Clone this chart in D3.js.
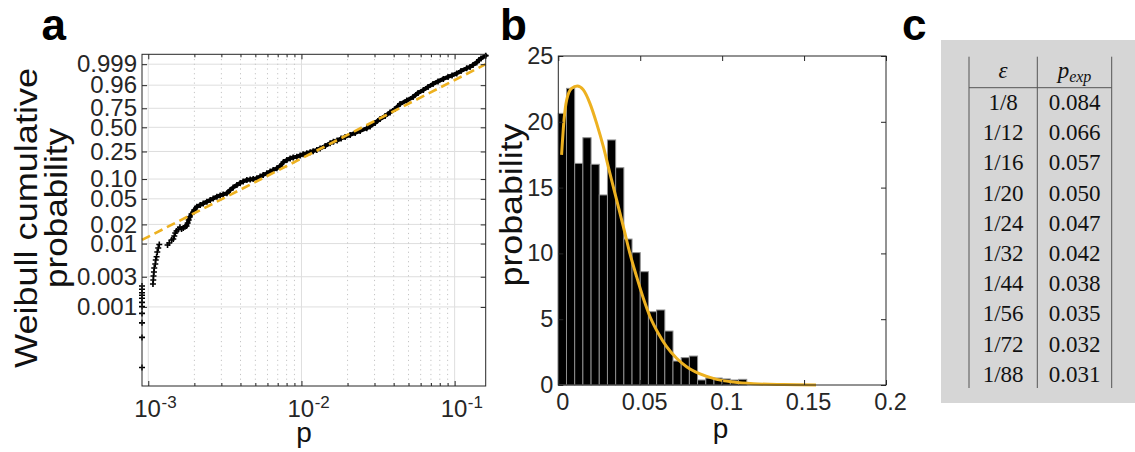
<!DOCTYPE html>
<html>
<head>
<meta charset="utf-8">
<script src="https://cdn.jsdelivr.net/npm/d3@7"></script>
<style>
  body { margin: 0; background: #fff; }
  svg { display: block; font-family: "Liberation Sans", Arial, Helvetica, sans-serif; }
</style>
</head>
<body>
<svg id="fig" width="1135" height="452"></svg>
<script>
// ---- panel a: Weibull probability plot (p, cumulative F) ----
const edgeP = 0.00091;
const edgeF = [0.00011, 0.00033, 0.00056, 0.00079, 0.00101, 0.00118, 0.00137, 0.00153, 0.00168, 0.0019, 0.00214];
const sparsePts = [
  [0.001073, 0.002304], [0.001078, 0.002664], [0.001082, 0.003082], [0.001089, 0.003566], [0.001094, 0.004123],
  [0.001111, 0.004769], [0.001119, 0.005517], [0.001133, 0.006218], [0.001145, 0.007374], [0.001162, 0.008525],
  [0.00118, 0.00968], [0.001336, 0.00951], [0.001371, 0.01022], [0.001419, 0.0114], [0.001456, 0.01182],
  [0.001478, 0.01318], [0.0015, 0.01468], [0.001529, 0.01578], [0.001569, 0.01666], [0.00161, 0.01804],
  [0.001649, 0.01696], [0.001692, 0.01758], [0.001736, 0.01843]
];
const bandPts = [
  [0.001778, 0.01891], [0.00181, 0.02107], [0.001837, 0.02347], [0.001865, 0.02615], [0.001916, 0.02913],
  [0.001995, 0.03362], [0.002078, 0.03784], [0.002183, 0.04019], [0.002284, 0.0424], [0.002414, 0.04522],
  [0.002537, 0.04803], [0.002655, 0.05065], [0.002806, 0.054], [0.002949, 0.05634], [0.003085, 0.05837],
  [0.003261, 0.0609], [0.003427, 0.06842], [0.003584, 0.07467], [0.00379, 0.0815], [0.003982, 0.08737],
  [0.004165, 0.09206], [0.004403, 0.09697], [0.004627, 0.09866], [0.00484, 0.10038], [0.005117, 0.10284],
  [0.005377, 0.10942], [0.005625, 0.11519], [0.005946, 0.12206], [0.006249, 0.12976], [0.006537, 0.13652],
  [0.006911, 0.14458], [0.007263, 0.15623], [0.007632, 0.17841], [0.008031, 0.19048], [0.008438, 0.20006],
  [0.008827, 0.20667], [0.009334, 0.21209], [0.009807, 0.22042], [0.010254, 0.22905], [0.010845, 0.23646],
  [0.011397, 0.24404], [0.011922, 0.25265], [0.012599, 0.26229], [0.013239, 0.2748], [0.014275, 0.29681],
  [0.015393, 0.32184], [0.016175, 0.33744], [0.0171, 0.34947], [0.018156, 0.37032], [0.019279, 0.3865],
  [0.020784, 0.40869], [0.022408, 0.43176], [0.024157, 0.45547], [0.026701, 0.48865], [0.02806, 0.51126],
  [0.03026, 0.55681], [0.032617, 0.60993], [0.035157, 0.65016], [0.037896, 0.69668], [0.040846, 0.74213],
  [0.044025, 0.80329], [0.048693, 0.8423], [0.05354, 0.87737], [0.057704, 0.91176], [0.062487, 0.93334],
  [0.067057, 0.95122], [0.072268, 0.96559], [0.077888, 0.97508], [0.084374, 0.98247], [0.090553, 0.98707],
  [0.096169, 0.98987], [0.1032, 0.99285], [0.11008, 0.99554], [0.11993, 0.99745], [0.12603, 0.99809],
  [0.13184, 0.99881], [0.13937, 0.99937], [0.14426, 0.99969], [0.14866, 0.9998], [0.15951, 0.99992]
];
const fitLine = [[0.00091, 0.0114], [0.1595, 0.999]];
const yTickVals = [0.999, 0.96, 0.75, 0.5, 0.25, 0.1, 0.05, 0.02, 0.01, 0.003, 0.001];
const yTickLabels = ["0.999", "0.96", "0.75", "0.50", "0.25", "0.10", "0.05", "0.02", "0.01", "0.003", "0.001"];
const decades = [0.001, 0.01, 0.1];
const decadeExp = ["-3", "-2", "-1"];
const minorVals = [0.002, 0.003, 0.004, 0.005, 0.006, 0.007, 0.008, 0.009,
                   0.02, 0.03, 0.04, 0.05, 0.06, 0.07, 0.08, 0.09];

// ---- panel b: histogram + fitted density ----
const binEdges = [0, 0.005, 0.01, 0.015, 0.02, 0.025, 0.03, 0.035, 0.04, 0.045, 0.05, 0.055, 0.06,
                  0.065, 0.07, 0.075, 0.08, 0.085, 0.09, 0.095, 0.1, 0.105, 0.11, 0.115];
const binHeight = [20.64, 22.54, 16.84, 18.79, 16.77, 14.44, 18.62, 16.51, 11.09, 10.06, 8.61, 5.57,
                   5.70, 4.10, 1.82, 2.08, 2.20, 0.38, 0.53, 0.53, 0.46, 0.38, 0.43];
const pdfP = [0.002, 0.0035, 0.0051, 0.0081, 0.0116, 0.0153, 0.0193, 0.0234, 0.0275, 0.0315, 0.0356,
              0.0397, 0.0437, 0.0478, 0.0519, 0.056, 0.061, 0.0661, 0.0722, 0.0783, 0.0865, 0.0966,
              0.1068, 0.119, 0.1373, 0.1573];
const pdfV = [17.48, 20.14, 21.66, 22.54, 22.72, 22.42, 21.4, 19.88, 18.11, 16.08, 14.06, 12.03, 10.0,
              8.23, 6.59, 5.19, 3.93, 2.91, 2.03, 1.39, 0.84, 0.43, 0.23, 0.1, 0.03, 0.0];
const xTicksB = [0, 0.05, 0.1, 0.15, 0.2];
const yTicksB = [0, 5, 10, 15, 20, 25];

// ---- panel c: table ----
const epsLabels = ["1/8", "1/12", "1/16", "1/20", "1/24", "1/32", "1/44", "1/56", "1/72", "1/88"];
const pExp = [0.084, 0.066, 0.057, 0.050, 0.047, 0.042, 0.038, 0.035, 0.032, 0.031];

const svg = d3.select("#fig");
const ink = "#262626";
const orange = "#EDB120";
const weib = F => Math.log10(-Math.log(1 - F));

// panel letters
[["a", 41.5], ["b", 500], ["c", 902]].forEach(([t, x]) => {
  svg.append("text").attr("x", x).attr("y", 40).attr("font-size", 44)
    .attr("font-weight", "bold").attr("fill", "#000").text(t);
});

// ================= panel a =================
const A = { l: 142, r: 485.7, t: 54.3, b: 386 };
const xA = d3.scaleLog().domain([0.00091, 0.1595]).range([A.l, A.r]);
const yA = d3.scaleLinear().domain([weib(0.0000562), weib(0.99995)]).range([A.b, A.t]);
const ga = svg.append("g");

// grid
ga.append("g").selectAll("line").data(yTickVals).join("line")
  .attr("x1", A.l).attr("x2", A.r).attr("y1", d => yA(weib(d))).attr("y2", d => yA(weib(d)))
  .attr("stroke", "#dedede").attr("stroke-width", 1);
ga.append("g").selectAll("line").data(decades).join("line")
  .attr("x1", d => xA(d)).attr("x2", d => xA(d)).attr("y1", A.t).attr("y2", A.b)
  .attr("stroke", "#dedede").attr("stroke-width", 1);
ga.append("g").selectAll("line").data(minorVals).join("line")
  .attr("x1", d => xA(d)).attr("x2", d => xA(d)).attr("y1", A.t).attr("y2", A.b)
  .attr("stroke", "#c4c4c4").attr("stroke-width", 1).attr("stroke-dasharray", "1.2,3.5");

// data band (dense, overlapping markers) and markers
const lineA = d3.line().x(d => xA(d[0])).y(d => yA(weib(d[1])));
ga.append("path").datum(bandPts).attr("d", lineA)
  .attr("fill", "none").attr("stroke", "#000").attr("stroke-width", 4)
  .attr("stroke-linejoin", "round").attr("stroke-linecap", "round");

const allMarks = edgeF.map(F => [edgeP, F]).concat(sparsePts, bandPts);
ga.append("g").selectAll("path").data(allMarks).join("path")
  .attr("transform", d => `translate(${xA(d[0])},${yA(weib(d[1]))})`)
  .attr("d", "M-3,0H3M0,-3V3")
  .attr("stroke", "#000").attr("stroke-width", 1.6).attr("fill", "none");

// fitted line
ga.append("path").datum(fitLine).attr("d", lineA)
  .attr("fill", "none").attr("stroke", orange).attr("stroke-width", 2.6)
  .attr("stroke-dasharray", "9,5");

// axes
const axA = ga.append("g").attr("color", ink);
axA.append("g").attr("transform", `translate(${A.l},0)`)
  .call(d3.axisLeft(yA).tickValues(yTickVals.map(weib)).tickFormat((d, i) => yTickLabels[i])
    .tickSizeInner(-5).tickSizeOuter(0).tickPadding(5));
axA.append("g").attr("transform", `translate(${A.r},0)`)
  .call(d3.axisRight(yA).tickValues(yTickVals.map(weib)).tickFormat("").tickSizeInner(-5).tickSizeOuter(0));
[[A.b, d3.axisBottom], [A.t, d3.axisTop]].forEach(([y, ax]) => {
  axA.append("g").attr("transform", `translate(0,${y})`)
    .call(ax(xA).tickValues(decades).tickFormat("").tickSizeInner(-5).tickSizeOuter(0));
  axA.append("g").attr("transform", `translate(0,${y})`)
    .call(ax(xA).tickValues(minorVals).tickFormat("").tickSizeInner(-3).tickSizeOuter(0));
});
axA.selectAll(".domain").remove();
axA.selectAll("text").attr("font-size", 24).attr("fill", ink).attr("font-family", null);
ga.append("rect").attr("x", A.l).attr("y", A.t).attr("width", A.r - A.l).attr("height", A.b - A.t)
  .attr("fill", "none").attr("stroke", ink).attr("stroke-width", 1);

// decade labels 10^k
const decLab = ga.append("g").selectAll("text").data(decades).join("text")
  .attr("x", d => xA(d) - 14).attr("y", 416.5).attr("font-size", 24).attr("fill", ink);
decLab.append("tspan").text("10");
decLab.append("tspan").attr("dy", -9).attr("dx", 0.5).attr("font-size", 17).text((d, i) => decadeExp[i]);

ga.append("text").attr("x", 304).attr("y", 442).attr("text-anchor", "middle")
  .attr("font-size", 28).attr("fill", "#111").text("p");
ga.append("text").attr("transform", "translate(36.5,218) rotate(-90)").attr("text-anchor", "middle")
  .attr("font-size", 32).attr("fill", "#111").attr("textLength", 300).attr("lengthAdjust", "spacingAndGlyphs")
  .text("Weibull cumulative");
ga.append("text").attr("transform", "translate(67,208) rotate(-90)").attr("text-anchor", "middle")
  .attr("font-size", 32).attr("fill", "#111").attr("textLength", 160).attr("lengthAdjust", "spacingAndGlyphs")
  .text("probability");

// ================= panel b =================
const B = { l: 558.3, r: 886, t: 56, b: 385 };
const xB = d3.scaleLinear().domain([0, 0.2]).range([B.l, B.r]);
const yB = d3.scaleLinear().domain([0, 25]).range([B.b, B.t]);
const gb = svg.append("g");

gb.append("g").selectAll("rect").data(binHeight).join("rect")
  .attr("x", (d, i) => xB(binEdges[i])).attr("width", (d, i) => xB(binEdges[i + 1]) - xB(binEdges[i]))
  .attr("y", d => yB(d)).attr("height", d => yB(0) - yB(d))
  .attr("fill", "#000").attr("stroke", "#8f8f8f").attr("stroke-width", 1);

gb.append("path").datum(pdfP.map((p, i) => [p, pdfV[i]]))
  .attr("d", d3.line().x(d => xB(d[0])).y(d => yB(d[1])).curve(d3.curveMonotoneX))
  .attr("fill", "none").attr("stroke", orange).attr("stroke-width", 3);

const axB = gb.append("g").attr("color", ink);
axB.append("g").attr("transform", `translate(${B.l},0)`)
  .call(d3.axisLeft(yB).tickValues(yTicksB).tickFormat(d3.format("d")).tickSizeInner(-5).tickSizeOuter(0).tickPadding(5));
axB.append("g").attr("transform", `translate(${B.r},0)`)
  .call(d3.axisRight(yB).tickValues(yTicksB).tickFormat("").tickSizeInner(-5).tickSizeOuter(0));
axB.append("g").attr("transform", `translate(0,${B.b})`)
  .call(d3.axisBottom(xB).tickValues(xTicksB).tickFormat(d => d === 0 ? "0" : String(d))
    .tickSizeInner(-5).tickSizeOuter(0).tickPadding(8));
axB.append("g").attr("transform", `translate(0,${B.t})`)
  .call(d3.axisTop(xB).tickValues(xTicksB).tickFormat("").tickSizeInner(-5).tickSizeOuter(0));
axB.selectAll(".domain").remove();
axB.selectAll("text").attr("font-size", 23.5).attr("fill", ink).attr("font-family", null);
axB.selectAll(".tick text").filter(function () { return this.getAttribute("dy") === "0.71em"; }).attr("dx", 4);
gb.append("rect").attr("x", B.l).attr("y", B.t).attr("width", B.r - B.l).attr("height", B.b - B.t)
  .attr("fill", "none").attr("stroke", ink).attr("stroke-width", 1);

gb.append("text").attr("x", 720.5).attr("y", 437.5).attr("text-anchor", "middle")
  .attr("font-size", 28).attr("fill", "#111").text("p");
gb.append("text").attr("transform", "translate(522,205) rotate(-90)").attr("text-anchor", "middle")
  .attr("font-size", 32).attr("fill", "#111").attr("textLength", 163).attr("lengthAdjust", "spacingAndGlyphs")
  .text("probability");

// ================= panel c =================
const gc = svg.append("g").attr("font-family", "'Liberation Serif', 'DejaVu Serif', serif").attr("fill", "#111");
gc.append("rect").attr("x", 941).attr("y", 40).attr("width", 194).attr("height", 363).attr("fill", "#d6d6d6");
const colX = [969, 1037.3, 1111.7];
gc.append("g").selectAll("line").data(colX).join("line")
  .attr("x1", d => d).attr("x2", d => d).attr("y1", 56.7).attr("y2", 388)
  .attr("stroke", "#555").attr("stroke-width", 1);
gc.append("line").attr("x1", colX[0]).attr("x2", colX[2]).attr("y1", 87.7).attr("y2", 87.7)
  .attr("stroke", "#555").attr("stroke-width", 1);

const c1 = (colX[0] + colX[1]) / 2, c2 = (colX[1] + colX[2]) / 2;
gc.append("text").attr("x", c1).attr("y", 78).attr("text-anchor", "middle").attr("font-size", 23)
  .attr("font-style", "italic").text("ε");
const hp = gc.append("text").attr("x", c2).attr("y", 78).attr("text-anchor", "middle").attr("font-size", 23)
  .attr("font-style", "italic");
hp.append("tspan").text("p");
hp.append("tspan").attr("dy", 4).attr("font-size", 16).text("exp");

const rowY = d3.scaleLinear().domain([0, epsLabels.length - 1]).range([110, 381.7]);
gc.append("g").selectAll("text").data(epsLabels).join("text")
  .attr("x", c1).attr("y", (d, i) => rowY(i)).attr("text-anchor", "middle").attr("font-size", 23).text(d => d);
gc.append("g").selectAll("text").data(pExp).join("text")
  .attr("x", c2).attr("y", (d, i) => rowY(i)).attr("text-anchor", "middle").attr("font-size", 23)
  .text(d3.format(".3f"));
</script>
</body>
</html>
